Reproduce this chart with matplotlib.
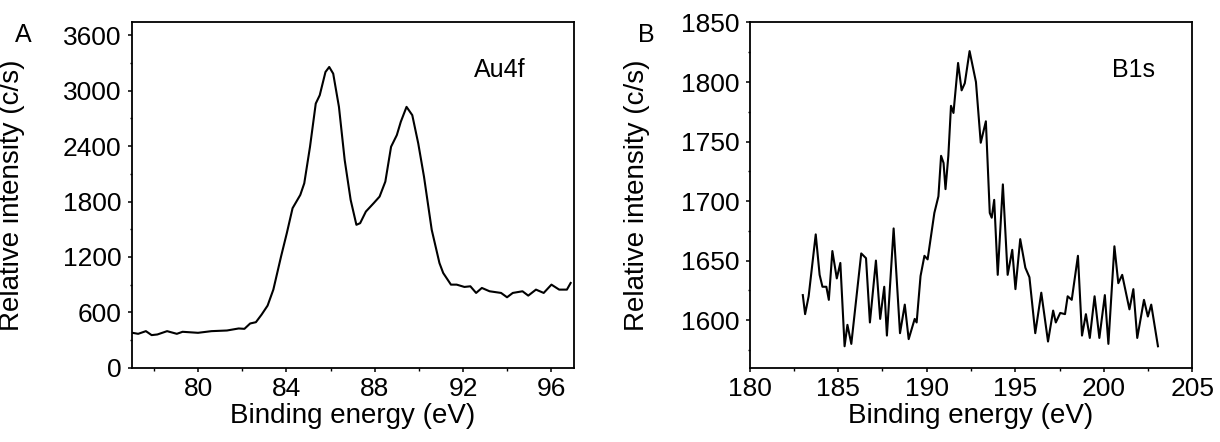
#!/usr/bin/env python3
import matplotlib

matplotlib.use("Agg")
import matplotlib.pyplot as plt
from matplotlib.ticker import MultipleLocator

# Panel A: Au4f spectrum (binding energy eV, counts/s)
au_energy = [77.03, 77.29, 77.64, 77.90, 78.16, 78.60, 79.04, 79.30, 80.00, 80.61,
             81.31, 81.84, 82.10, 82.36, 82.62, 82.88, 83.15, 83.41, 83.76, 84.02,
             84.28, 84.63, 84.81, 85.07, 85.33, 85.51, 85.77, 85.94, 86.12, 86.38,
             86.64, 86.91, 87.17, 87.34, 87.60, 87.95, 88.22, 88.48, 88.74, 89.00,
             89.18, 89.44, 89.70, 89.97, 90.23, 90.58, 90.93, 91.10, 91.45, 91.71,
             92.06, 92.33, 92.59, 92.85, 93.20, 93.72, 93.99, 94.25, 94.69, 94.95,
             95.30, 95.65, 96.00, 96.35, 96.70, 96.87]
au_counts = [378, 367, 396, 353, 360, 396, 367, 389, 378, 396,
             403, 425, 421, 479, 493, 576, 673, 846, 1206, 1458,
             1728, 1872, 1998, 2394, 2862, 2952, 3204, 3258, 3186, 2826,
             2250, 1818, 1548, 1566, 1692, 1782, 1854, 2016, 2394, 2520,
             2664, 2826, 2736, 2430, 2070, 1494, 1134, 1026, 900, 900,
             875, 882, 810, 864, 828, 810, 763, 810, 828, 781,
             846, 810, 900, 846, 846, 918]

# Panel B: B1s spectrum
b_energy = [183.00, 183.13, 183.33, 183.73, 183.95, 184.11, 184.33, 184.47, 184.67, 184.92,
            185.12, 185.36, 185.52, 185.74, 186.30, 186.57, 186.79, 187.13, 187.37, 187.60,
            187.75, 188.13, 188.49, 188.76, 188.98, 189.32, 189.43, 189.65, 189.87, 190.05,
            190.43, 190.66, 190.81, 190.95, 191.06, 191.22, 191.37, 191.51, 191.77, 191.97,
            192.15, 192.42, 192.78, 193.05, 193.34, 193.56, 193.67, 193.81, 194.01, 194.30,
            194.57, 194.83, 195.01, 195.28, 195.57, 195.80, 196.13, 196.47, 196.85, 197.14,
            197.29, 197.54, 197.81, 197.96, 198.19, 198.54, 198.77, 198.99, 199.21, 199.48,
            199.75, 200.06, 200.26, 200.60, 200.82, 201.04, 201.45, 201.67, 201.89, 202.27,
            202.49, 202.68, 203.06]
b_counts = [1621, 1605, 1620, 1672, 1638, 1628, 1628, 1617, 1658, 1635,
            1648, 1578, 1596, 1580, 1656, 1652, 1598, 1650, 1601, 1628,
            1587, 1677, 1589, 1613, 1584, 1601, 1598, 1637, 1654, 1651,
            1690, 1704, 1738, 1732, 1710, 1738, 1780, 1774, 1816, 1793,
            1799, 1826, 1800, 1749, 1767, 1690, 1686, 1701, 1638, 1714,
            1638, 1659, 1626, 1668, 1644, 1636, 1589, 1623, 1582, 1608,
            1598, 1606, 1605, 1620, 1617, 1654, 1587, 1605, 1585, 1620,
            1585, 1621, 1580, 1662, 1631, 1638, 1609, 1626, 1585, 1617,
            1603, 1613, 1578]

plt.rcParams.update(
    {
        "font.family": ["Liberation Sans", "DejaVu Sans"],
        "font.size": 19,
        "axes.linewidth": 1.3,
        "xtick.direction": "out",
        "ytick.direction": "out",
        "xtick.major.size": 3,
        "ytick.major.size": 3,
        "xtick.minor.size": 1.8,
        "ytick.minor.size": 1.8,
        "xtick.major.width": 1.1,
        "ytick.major.width": 1.1,
        "xtick.minor.width": 1.0,
        "ytick.minor.width": 1.0,
    }
)

fig = plt.figure(figsize=(12.2, 4.42), dpi=100)
ax1 = fig.add_axes([0.1080, 0.1681, 0.3621, 0.781])
ax2 = fig.add_axes([0.6145, 0.1681, 0.3628, 0.781])

ax1.plot(au_energy, au_counts, color="black", lw=1.5)
ax1.set_xlim(77, 97)
ax1.set_ylim(0, 3740)
ax1.xaxis.set_major_locator(MultipleLocator(4))
ax1.xaxis.set_minor_locator(MultipleLocator(2))
ax1.yaxis.set_major_locator(MultipleLocator(600))
ax1.yaxis.set_minor_locator(MultipleLocator(300))
ax1.text(0.832, 0.862, "Au4f", transform=ax1.transAxes, ha="center", va="center", fontsize=18)

ax2.plot(b_energy, b_counts, color="black", lw=1.5)
ax2.set_xlim(180, 205)
ax2.set_ylim(1560, 1850)
ax2.xaxis.set_major_locator(MultipleLocator(5))
ax2.xaxis.set_minor_locator(MultipleLocator(2.5))
ax2.yaxis.set_major_locator(MultipleLocator(50))
ax2.yaxis.set_minor_locator(MultipleLocator(25))
ax2.text(0.868, 0.862, "B1s", transform=ax2.transAxes, ha="center", va="center", fontsize=18)

for ax, lx in ((ax1, -0.2415), (ax2, -0.226)):
    ax.set_xlabel("Binding energy (eV)", fontsize=20, labelpad=1)
    ax.set_ylabel("Relative intensity (c/s)", fontsize=20)
    ax.yaxis.set_label_coords(lx, 0.5)
    ax.tick_params(labelsize=19)
    ax.tick_params(axis="x", pad=4)
    ax.tick_params(axis="y", pad=4.5)
    ax.tick_params(which="both", top=False, right=False)

fig.text(23 / 1220, 1 - 35 / 442, "A", fontsize=18, ha="center", va="center")
fig.text(646 / 1220, 1 - 35 / 442, "B", fontsize=18, ha="center", va="center")

fig.savefig("out.png", dpi=100, facecolor="white")
plt.close(fig)
